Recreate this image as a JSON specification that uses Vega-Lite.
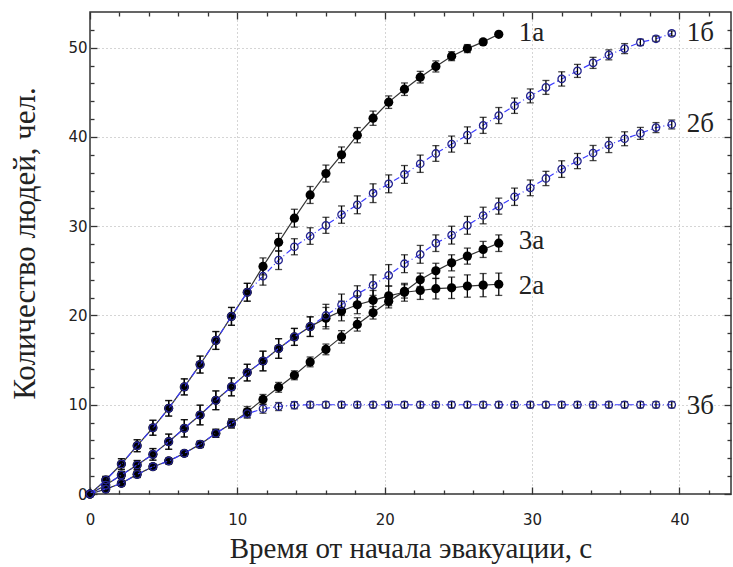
{
  "$schema": "https://vega.github.io/schema/vega-lite/v6.json",
  "width": 641,
  "height": 482,
  "autosize": {"type": "none"},
  "padding": {"left": 90, "top": 12, "right": 2, "bottom": 73},
  "background": "white",
  "config": {"view": {"stroke": "#333", "strokeWidth": 1.5}},
  "datasets": {
    "pts": [
      {"s":"1а","g":"a","x":0,"y":0,"e":0},
      {"s":"1а","g":"a","x":1.07,"y":1.57,"e":0.4},
      {"s":"1а","g":"a","x":2.13,"y":3.36,"e":0.6},
      {"s":"1а","g":"a","x":3.2,"y":5.41,"e":0.67},
      {"s":"1а","g":"a","x":4.27,"y":7.42,"e":0.84},
      {"s":"1а","g":"a","x":5.34,"y":9.6,"e":0.87},
      {"s":"1а","g":"a","x":6.4,"y":12.0,"e":0.9},
      {"s":"1а","g":"a","x":7.47,"y":14.5,"e":0.95},
      {"s":"1а","g":"a","x":8.54,"y":17.2,"e":1.0},
      {"s":"1а","g":"a","x":9.6,"y":19.9,"e":1.0},
      {"s":"1а","g":"a","x":10.67,"y":22.6,"e":1.0},
      {"s":"1а","g":"a","x":11.74,"y":25.5,"e":0.95},
      {"s":"1а","g":"a","x":12.8,"y":28.2,"e":1.0},
      {"s":"1а","g":"a","x":13.87,"y":30.9,"e":1.0},
      {"s":"1а","g":"a","x":14.94,"y":33.5,"e":0.95},
      {"s":"1а","g":"a","x":16.01,"y":35.9,"e":0.95},
      {"s":"1а","g":"a","x":17.07,"y":38.0,"e":0.88},
      {"s":"1а","g":"a","x":18.14,"y":40.2,"e":0.85},
      {"s":"1а","g":"a","x":19.21,"y":42.1,"e":0.8},
      {"s":"1а","g":"a","x":20.27,"y":43.9,"e":0.7},
      {"s":"1а","g":"a","x":21.34,"y":45.35,"e":0.7},
      {"s":"1а","g":"a","x":22.41,"y":46.7,"e":0.65},
      {"s":"1а","g":"a","x":23.47,"y":47.9,"e":0.62},
      {"s":"1а","g":"a","x":24.54,"y":49.05,"e":0.5},
      {"s":"1а","g":"a","x":25.61,"y":49.9,"e":0.45},
      {"s":"1а","g":"a","x":26.68,"y":50.65,"e":0.3},
      {"s":"1а","g":"a","x":27.74,"y":51.5,"e":0.2},

      {"s":"1б","g":"b","x":0,"y":0,"e":0},
      {"s":"1б","g":"b","x":1.07,"y":1.57,"e":0.4},
      {"s":"1б","g":"b","x":2.13,"y":3.36,"e":0.6},
      {"s":"1б","g":"b","x":3.2,"y":5.41,"e":0.67},
      {"s":"1б","g":"b","x":4.27,"y":7.42,"e":0.84},
      {"s":"1б","g":"b","x":5.34,"y":9.6,"e":0.87},
      {"s":"1б","g":"b","x":6.4,"y":12.0,"e":0.9},
      {"s":"1б","g":"b","x":7.47,"y":14.5,"e":0.95},
      {"s":"1б","g":"b","x":8.54,"y":17.2,"e":1.0},
      {"s":"1б","g":"b","x":9.6,"y":19.9,"e":1.0},
      {"s":"1б","g":"b","x":10.67,"y":22.6,"e":1.0},
      {"s":"1б","g":"b","x":11.74,"y":24.4,"e":1.0},
      {"s":"1б","g":"b","x":12.8,"y":26.2,"e":1.05},
      {"s":"1б","g":"b","x":13.87,"y":27.7,"e":0.9},
      {"s":"1б","g":"b","x":14.94,"y":28.9,"e":0.93},
      {"s":"1б","g":"b","x":16.01,"y":30.1,"e":0.9},
      {"s":"1б","g":"b","x":17.07,"y":31.3,"e":0.97},
      {"s":"1б","g":"b","x":18.14,"y":32.4,"e":1.0},
      {"s":"1б","g":"b","x":19.21,"y":33.7,"e":1.05},
      {"s":"1б","g":"b","x":20.27,"y":34.75,"e":1.0},
      {"s":"1б","g":"b","x":21.34,"y":35.8,"e":1.0},
      {"s":"1б","g":"b","x":22.41,"y":37.0,"e":0.97},
      {"s":"1б","g":"b","x":23.47,"y":38.15,"e":0.88},
      {"s":"1б","g":"b","x":24.54,"y":39.2,"e":0.9},
      {"s":"1б","g":"b","x":25.61,"y":40.2,"e":0.93},
      {"s":"1б","g":"b","x":26.68,"y":41.3,"e":0.9},
      {"s":"1б","g":"b","x":27.74,"y":42.4,"e":0.9},
      {"s":"1б","g":"b","x":28.81,"y":43.5,"e":0.86},
      {"s":"1б","g":"b","x":29.88,"y":44.6,"e":0.78},
      {"s":"1б","g":"b","x":30.94,"y":45.55,"e":0.78},
      {"s":"1б","g":"b","x":32.01,"y":46.5,"e":0.8},
      {"s":"1б","g":"b","x":33.08,"y":47.4,"e":0.73},
      {"s":"1б","g":"b","x":34.14,"y":48.3,"e":0.62},
      {"s":"1б","g":"b","x":35.21,"y":49.2,"e":0.56},
      {"s":"1б","g":"b","x":36.28,"y":49.9,"e":0.56},
      {"s":"1б","g":"b","x":37.35,"y":50.6,"e":0.35},
      {"s":"1б","g":"b","x":38.41,"y":51.0,"e":0.3},
      {"s":"1б","g":"b","x":39.48,"y":51.6,"e":0.28},

      {"s":"2а","g":"a","x":0,"y":0,"e":0},
      {"s":"2а","g":"a","x":1.07,"y":1.0,"e":0.3},
      {"s":"2а","g":"a","x":2.13,"y":2.13,"e":0.4},
      {"s":"2а","g":"a","x":3.2,"y":3.25,"e":0.5},
      {"s":"2а","g":"a","x":4.27,"y":4.44,"e":0.65},
      {"s":"2а","g":"a","x":5.34,"y":5.86,"e":0.85},
      {"s":"2а","g":"a","x":6.4,"y":7.36,"e":0.97},
      {"s":"2а","g":"a","x":7.47,"y":8.85,"e":1.1},
      {"s":"2а","g":"a","x":8.54,"y":10.5,"e":1.05},
      {"s":"2а","g":"a","x":9.6,"y":12.0,"e":1.0},
      {"s":"2а","g":"a","x":10.67,"y":13.6,"e":0.93},
      {"s":"2а","g":"a","x":11.74,"y":14.9,"e":1.1},
      {"s":"2а","g":"a","x":12.8,"y":16.3,"e":1.1},
      {"s":"2а","g":"a","x":13.87,"y":17.6,"e":0.95},
      {"s":"2а","g":"a","x":14.94,"y":18.75,"e":1.1},
      {"s":"2а","g":"a","x":16.01,"y":19.7,"e":1.2},
      {"s":"2а","g":"a","x":17.07,"y":20.5,"e":1.1},
      {"s":"2а","g":"a","x":18.14,"y":21.2,"e":1.0},
      {"s":"2а","g":"a","x":19.21,"y":21.7,"e":1.1},
      {"s":"2а","g":"a","x":20.27,"y":22.2,"e":1.1},
      {"s":"2а","g":"a","x":21.34,"y":22.6,"e":1.0},
      {"s":"2а","g":"a","x":22.41,"y":22.8,"e":1.0},
      {"s":"2а","g":"a","x":23.47,"y":23.0,"e":1.15},
      {"s":"2а","g":"a","x":24.54,"y":23.1,"e":1.2},
      {"s":"2а","g":"a","x":25.61,"y":23.3,"e":1.25},
      {"s":"2а","g":"a","x":26.68,"y":23.4,"e":1.3},
      {"s":"2а","g":"a","x":27.74,"y":23.5,"e":1.25},

      {"s":"2б","g":"b","x":0,"y":0,"e":0},
      {"s":"2б","g":"b","x":1.07,"y":1.0,"e":0.3},
      {"s":"2б","g":"b","x":2.13,"y":2.13,"e":0.4},
      {"s":"2б","g":"b","x":3.2,"y":3.25,"e":0.5},
      {"s":"2б","g":"b","x":4.27,"y":4.44,"e":0.65},
      {"s":"2б","g":"b","x":5.34,"y":5.86,"e":0.85},
      {"s":"2б","g":"b","x":6.4,"y":7.36,"e":0.97},
      {"s":"2б","g":"b","x":7.47,"y":8.85,"e":1.1},
      {"s":"2б","g":"b","x":8.54,"y":10.5,"e":1.05},
      {"s":"2б","g":"b","x":9.6,"y":12.0,"e":1.0},
      {"s":"2б","g":"b","x":10.67,"y":13.6,"e":0.93},
      {"s":"2б","g":"b","x":11.74,"y":14.9,"e":1.1},
      {"s":"2б","g":"b","x":12.8,"y":16.3,"e":1.1},
      {"s":"2б","g":"b","x":13.87,"y":17.6,"e":0.95},
      {"s":"2б","g":"b","x":14.94,"y":18.75,"e":1.1},
      {"s":"2б","g":"b","x":16.01,"y":20.0,"e":1.25},
      {"s":"2б","g":"b","x":17.07,"y":21.2,"e":1.2},
      {"s":"2б","g":"b","x":18.14,"y":22.4,"e":0.93},
      {"s":"2б","g":"b","x":19.21,"y":23.4,"e":1.15},
      {"s":"2б","g":"b","x":20.27,"y":24.5,"e":1.2},
      {"s":"2б","g":"b","x":21.34,"y":25.8,"e":1.0},
      {"s":"2б","g":"b","x":22.41,"y":26.85,"e":1.0},
      {"s":"2б","g":"b","x":23.47,"y":28.1,"e":0.93},
      {"s":"2б","g":"b","x":24.54,"y":29.0,"e":1.0},
      {"s":"2б","g":"b","x":25.61,"y":30.1,"e":1.0},
      {"s":"2б","g":"b","x":26.68,"y":31.2,"e":0.93},
      {"s":"2б","g":"b","x":27.74,"y":32.25,"e":0.9},
      {"s":"2б","g":"b","x":28.81,"y":33.3,"e":0.97},
      {"s":"2б","g":"b","x":29.88,"y":34.3,"e":0.88},
      {"s":"2б","g":"b","x":30.94,"y":35.35,"e":0.8},
      {"s":"2б","g":"b","x":32.01,"y":36.4,"e":0.93},
      {"s":"2б","g":"b","x":33.08,"y":37.3,"e":0.85},
      {"s":"2б","g":"b","x":34.14,"y":38.2,"e":0.85},
      {"s":"2б","g":"b","x":35.21,"y":39.1,"e":0.85},
      {"s":"2б","g":"b","x":36.28,"y":39.8,"e":0.78},
      {"s":"2б","g":"b","x":37.35,"y":40.4,"e":0.67},
      {"s":"2б","g":"b","x":38.41,"y":41.05,"e":0.56},
      {"s":"2б","g":"b","x":39.48,"y":41.4,"e":0.5},

      {"s":"3а","g":"a","x":0,"y":0,"e":0},
      {"s":"3а","g":"a","x":1.07,"y":0.55,"e":0.2},
      {"s":"3а","g":"a","x":2.13,"y":1.2,"e":0.25},
      {"s":"3а","g":"a","x":3.2,"y":2.2,"e":0.35},
      {"s":"3а","g":"a","x":4.27,"y":3.06,"e":0.3},
      {"s":"3а","g":"a","x":5.34,"y":3.7,"e":0.3},
      {"s":"3а","g":"a","x":6.4,"y":4.56,"e":0.3},
      {"s":"3а","g":"a","x":7.47,"y":5.56,"e":0.35},
      {"s":"3а","g":"a","x":8.54,"y":6.8,"e":0.45},
      {"s":"3а","g":"a","x":9.6,"y":7.9,"e":0.5},
      {"s":"3а","g":"a","x":10.67,"y":9.2,"e":0.6},
      {"s":"3а","g":"a","x":11.74,"y":10.6,"e":0.55},
      {"s":"3а","g":"a","x":12.8,"y":11.95,"e":0.55},
      {"s":"3а","g":"a","x":13.87,"y":13.3,"e":0.5},
      {"s":"3а","g":"a","x":14.94,"y":14.8,"e":0.55},
      {"s":"3а","g":"a","x":16.01,"y":16.2,"e":0.6},
      {"s":"3а","g":"a","x":17.07,"y":17.6,"e":0.7},
      {"s":"3а","g":"a","x":18.14,"y":19.0,"e":0.75},
      {"s":"3а","g":"a","x":19.21,"y":20.3,"e":0.7},
      {"s":"3а","g":"a","x":20.27,"y":21.6,"e":0.75},
      {"s":"3а","g":"a","x":21.34,"y":22.7,"e":0.75},
      {"s":"3а","g":"a","x":22.41,"y":24.0,"e":0.75},
      {"s":"3а","g":"a","x":23.47,"y":25.0,"e":0.85},
      {"s":"3а","g":"a","x":24.54,"y":25.9,"e":0.9},
      {"s":"3а","g":"a","x":25.61,"y":26.65,"e":0.9},
      {"s":"3а","g":"a","x":26.68,"y":27.4,"e":0.9},
      {"s":"3а","g":"a","x":27.74,"y":28.1,"e":0.93},

      {"s":"3б","g":"b","x":0,"y":0,"e":0},
      {"s":"3б","g":"b","x":1.07,"y":0.55,"e":0.2},
      {"s":"3б","g":"b","x":2.13,"y":1.2,"e":0.25},
      {"s":"3б","g":"b","x":3.2,"y":2.2,"e":0.35},
      {"s":"3б","g":"b","x":4.27,"y":3.06,"e":0.3},
      {"s":"3б","g":"b","x":5.34,"y":3.7,"e":0.3},
      {"s":"3б","g":"b","x":6.4,"y":4.56,"e":0.3},
      {"s":"3б","g":"b","x":7.47,"y":5.56,"e":0.35},
      {"s":"3б","g":"b","x":8.54,"y":6.8,"e":0.45},
      {"s":"3б","g":"b","x":9.6,"y":7.9,"e":0.5},
      {"s":"3б","g":"b","x":10.67,"y":9.0,"e":0.5},
      {"s":"3б","g":"b","x":11.74,"y":9.55,"e":0.5},
      {"s":"3б","g":"b","x":12.8,"y":9.8,"e":0.45},
      {"s":"3б","g":"b","x":13.87,"y":9.95,"e":0.4},
      {"s":"3б","g":"b","x":14.94,"y":10.0,"e":0.35},
      {"s":"3б","g":"b","x":16.01,"y":10.0,"e":0.35},
      {"s":"3б","g":"b","x":17.07,"y":10.0,"e":0.35},
      {"s":"3б","g":"b","x":18.14,"y":10.0,"e":0.35},
      {"s":"3б","g":"b","x":19.21,"y":10.0,"e":0.35},
      {"s":"3б","g":"b","x":20.27,"y":10.0,"e":0.35},
      {"s":"3б","g":"b","x":21.34,"y":10.0,"e":0.35},
      {"s":"3б","g":"b","x":22.41,"y":10.0,"e":0.35},
      {"s":"3б","g":"b","x":23.47,"y":10.0,"e":0.35},
      {"s":"3б","g":"b","x":24.54,"y":10.0,"e":0.35},
      {"s":"3б","g":"b","x":25.61,"y":10.0,"e":0.35},
      {"s":"3б","g":"b","x":26.68,"y":10.0,"e":0.35},
      {"s":"3б","g":"b","x":27.74,"y":10.0,"e":0.35},
      {"s":"3б","g":"b","x":28.81,"y":10.0,"e":0.35},
      {"s":"3б","g":"b","x":29.88,"y":10.0,"e":0.35},
      {"s":"3б","g":"b","x":30.94,"y":10.0,"e":0.35},
      {"s":"3б","g":"b","x":32.01,"y":10.0,"e":0.35},
      {"s":"3б","g":"b","x":33.08,"y":10.0,"e":0.35},
      {"s":"3б","g":"b","x":34.14,"y":10.0,"e":0.35},
      {"s":"3б","g":"b","x":35.21,"y":10.0,"e":0.35},
      {"s":"3б","g":"b","x":36.28,"y":10.0,"e":0.35},
      {"s":"3б","g":"b","x":37.35,"y":10.0,"e":0.35},
      {"s":"3б","g":"b","x":38.41,"y":10.0,"e":0.35},
      {"s":"3б","g":"b","x":39.48,"y":10.0,"e":0.35}
    ],
    "labA": [
      {"t":"1а","x":27.74,"y":51.6},
      {"t":"3а","x":27.74,"y":28.3},
      {"t":"2а","x":27.74,"y":23.3}
    ],
    "labB": [
      {"t":"1б","x":39.48,"y":51.6},
      {"t":"2б","x":39.48,"y":41.5},
      {"t":"3б","x":39.48,"y":9.9}
    ]
  },
  "encoding": {
    "x": {"field": "x", "type": "quantitative", "scale": {"domain": [0, 43.5], "nice": false, "zero": false}, "axis": null},
    "y": {"field": "y", "type": "quantitative", "scale": {"domain": [0, 54], "nice": false, "zero": false}, "axis": null}
  },
  "layer": [
    {
      "data": {"name": "pts"},
      "transform": [{"filter": "datum.g === 'a'"}],
      "mark": {"type": "line", "color": "#333", "strokeWidth": 1.2},
      "encoding": {
        "detail": {"field": "s"},
        "x": {"field": "x", "type": "quantitative", "scale": {"domain": [0, 43.5], "nice": false, "zero": false},
          "axis": {
            "orient": "bottom",
            "values": [0,2,4,6,8,10,12,14,16,18,20,22,24,26,28,30,32,34,36,38,40,42],
            "labelExpr": "datum.value % 10 === 0 ? datum.label : ''",
            "tickSize": {"condition": {"test": "datum.value % 10 === 0", "value": -7}, "value": -4},
            "tickColor": "#333", "tickWidth": 1.3,
            "grid": true, "gridColor": "#aaaaaa", "gridDash": [1, 3], "gridWidth": 1,
            "gridOpacity": {"condition": {"test": "datum.value % 10 === 0 && datum.value > 0", "value": 1}, "value": 0},
            "domain": false,
            "labelFont": "DejaVu Sans", "labelFontSize": 15, "labelColor": "#222", "labelPadding": 25,
            "labelFlush": false, "labelOverlap": false,
            "title": "Время от начала эвакуации, с",
            "titleFont": "Liberation Serif", "titleFontSize": 29, "titleFontWeight": "normal", "titleColor": "#222", "titlePadding": 4
          }
        },
        "y": {"field": "y", "type": "quantitative", "scale": {"domain": [0, 54], "nice": false, "zero": false},
          "axis": {
            "orient": "left",
            "values": [0,2,4,6,8,10,12,14,16,18,20,22,24,26,28,30,32,34,36,38,40,42,44,46,48,50,52],
            "labelExpr": "datum.value % 10 === 0 ? datum.label : ''",
            "tickSize": {"condition": {"test": "datum.value % 10 === 0", "value": -7}, "value": -4},
            "tickColor": "#333", "tickWidth": 1.3,
            "grid": true, "gridColor": "#aaaaaa", "gridDash": [1, 3], "gridWidth": 1,
            "gridOpacity": {"condition": {"test": "datum.value % 10 === 0 && datum.value > 0", "value": 1}, "value": 0},
            "domain": false,
            "labelFont": "DejaVu Sans", "labelFontSize": 15, "labelColor": "#222", "labelPadding": 10,
            "labelFlush": false, "labelOverlap": false,
            "title": "Количество людей, чел.",
            "titleFont": "Liberation Serif", "titleFontSize": 31, "titleFontWeight": "normal", "titleColor": "#222", "titlePadding": 26,
            "titleY": 231
          }
        }
      }
    },
    {
      "data": {"name": "pts"},
      "transform": [{"filter": "datum.g === 'a'"}],
      "mark": {"type": "errorbar", "ticks": {"size": 7, "color": "black", "strokeWidth": 1.3}, "color": "black", "thickness": 1.3},
      "encoding": {"yError": {"field": "e"}, "detail": {"field": "s"}}
    },
    {
      "data": {"name": "pts"},
      "transform": [{"filter": "datum.g === 'a'"}],
      "mark": {"type": "point", "shape": "circle", "filled": true, "color": "black", "size": 85, "opacity": 1}
    },
    {
      "data": {"name": "pts"},
      "transform": [{"filter": "datum.g === 'b'"}],
      "mark": {"type": "line", "color": "#3c3cff", "strokeWidth": 1.2, "strokeDash": [6, 3, 1, 3]},
      "encoding": {"detail": {"field": "s"}}
    },
    {
      "data": {"name": "pts"},
      "transform": [{"filter": "datum.g === 'b'"}],
      "mark": {"type": "errorbar", "ticks": {"size": 7, "color": "black", "strokeWidth": 1.3}, "color": "black", "thickness": 1.3},
      "encoding": {"yError": {"field": "e"}, "detail": {"field": "s"}}
    },
    {
      "data": {"name": "pts"},
      "transform": [{"filter": "datum.g === 'b'"}],
      "mark": {"type": "point", "shape": "circle", "filled": false, "stroke": "#23238c", "strokeWidth": 1.3, "size": 55, "opacity": 1}
    },
    {
      "data": {"name": "labA"},
      "mark": {"type": "text", "align": "left", "baseline": "middle", "dx": 20, "font": "Liberation Serif", "fontSize": 27, "color": "#222"},
      "encoding": {"text": {"field": "t"}}
    },
    {
      "data": {"name": "labB"},
      "mark": {"type": "text", "align": "left", "baseline": "middle", "dx": 15, "font": "Liberation Serif", "fontSize": 27, "color": "#222"},
      "encoding": {"text": {"field": "t"}}
    },
    {
      "data": {"name": "pts"},
      "mark": {"type": "point", "opacity": 0},
      "encoding": {
        "x": {"field": "x", "type": "quantitative", "scale": {"domain": [0, 43.5], "nice": false, "zero": false},
          "axis": {
            "orient": "top",
            "values": [0,2,4,6,8,10,12,14,16,18,20,22,24,26,28,30,32,34,36,38,40,42],
            "labels": false, "grid": false, "domain": false, "title": null,
            "tickSize": {"condition": {"test": "datum.value % 10 === 0", "value": -7}, "value": -4},
            "tickColor": "#333", "tickWidth": 1.3
          }
        },
        "y": {"field": "y", "type": "quantitative", "scale": {"domain": [0, 54], "nice": false, "zero": false},
          "axis": {
            "orient": "right",
            "values": [0,2,4,6,8,10,12,14,16,18,20,22,24,26,28,30,32,34,36,38,40,42,44,46,48,50,52],
            "labels": false, "grid": false, "domain": false, "title": null,
            "tickSize": {"condition": {"test": "datum.value % 10 === 0", "value": -7}, "value": -4},
            "tickColor": "#333", "tickWidth": 1.3
          }
        }
      }
    }
  ],
  "resolve": {"axis": {"x": "independent", "y": "independent"}}
}
